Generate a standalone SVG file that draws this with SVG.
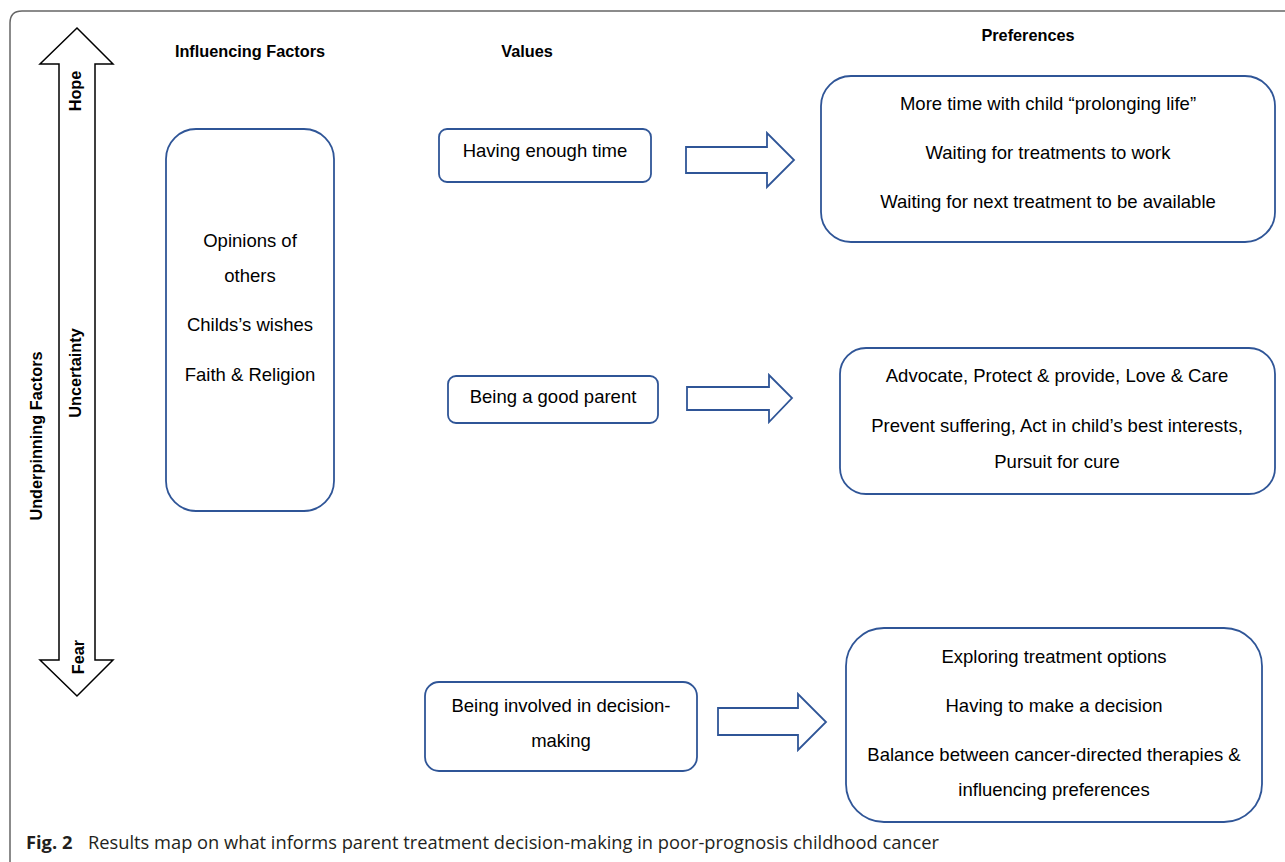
<svg xmlns="http://www.w3.org/2000/svg" width="1285" height="862" viewBox="0 0 1285 862">
<style>
.box{fill:#fff;stroke:#2f5597;stroke-width:1.8}
.blk{fill:#fff;stroke:#2f5597;stroke-width:1.8;stroke-linejoin:miter}
.t{font-family:"Liberation Sans",Arial,sans-serif;font-size:18.5px;fill:#000;text-anchor:middle}
.h{font-family:"Liberation Sans",Arial,sans-serif;font-size:16.3px;font-weight:bold;fill:#000;text-anchor:middle}
.cap{font-family:"Open Sans","Liberation Sans",sans-serif;font-size:18.3px;fill:#231f20}
</style>
<rect width="1285" height="862" fill="#fff"/>
<path d="M10,870 L10,23 Q10,11 22,11 L1300,11" fill="none" stroke="#666" stroke-width="1.5"/>

<g id="axis">
<path d="M77,28 L113,64 L95,64 L95,660 L113,660 L77,696 L40,660 L59,660 L59,64 L40,64 Z" fill="#fff" stroke="#000" stroke-width="1.5"/>
<text class="h" transform="translate(81,91) rotate(-90)">Hope</text>
<text class="h" transform="translate(81,373) rotate(-90)">Uncertainty</text>
<text class="h" transform="translate(84,657) rotate(-90)">Fear</text>
<text class="h" transform="translate(42,436) rotate(-90)">Underpinning Factors</text>
</g>

<g id="headers">
<text class="h" x="250" y="57">Influencing Factors</text>
<text class="h" x="527" y="57">Values</text>
<text class="h" x="1028" y="41">Preferences</text>
</g>

<g id="influencing">
<rect class="box" x="166" y="129" width="168" height="382" rx="30"/>
<text class="t" x="250" y="247">Opinions of</text>
<text class="t" x="250" y="282">others</text>
<text class="t" x="250" y="331">Childs’s wishes</text>
<text class="t" x="250" y="381">Faith &amp; Religion</text>
</g>

<g id="value1">
<rect class="box" x="439" y="129" width="212" height="53" rx="8"/>
<text class="t" x="545" y="157">Having enough time</text>
</g>
<g id="value2">
<rect class="box" x="448" y="376" width="210" height="47" rx="8"/>
<text class="t" x="553" y="403">Being a good parent</text>
</g>
<g id="value3">
<rect class="box" x="425" y="682" width="272" height="89" rx="14"/>
<text class="t" x="561" y="712">Being involved in decision-</text>
<text class="t" x="561" y="747">making</text>
</g>

<g id="connectors">
<path class="blk" d="M686,147 L767,147 L767,133 L794,160 L767,187 L767,173 L686,173 Z"/>
<path class="blk" d="M687,387 L769,387 L769,375 L792,398 L769,422 L769,410 L687,410 Z"/>
<path class="blk" d="M718,708 L798,708 L798,694 L826,722 L798,750 L798,735 L718,735 Z"/>
</g>

<g id="pref1">
<rect class="box" x="821" y="76" width="454" height="166" rx="30"/>
<text class="t" x="1048" y="110">More time with child “prolonging life”</text>
<text class="t" x="1048" y="159">Waiting for treatments to work</text>
<text class="t" x="1048" y="208">Waiting for next treatment to be available</text>
</g>
<g id="pref2">
<rect class="box" x="840" y="348" width="435" height="146" rx="26"/>
<text class="t" x="1057" y="382">Advocate, Protect &amp; provide, Love &amp; Care</text>
<text class="t" x="1057" y="432">Prevent suffering, Act in child’s best interests,</text>
<text class="t" x="1057" y="468">Pursuit for cure</text>
</g>
<g id="pref3">
<rect class="box" x="846" y="628" width="416" height="194" rx="38"/>
<text class="t" x="1054" y="663">Exploring treatment options</text>
<text class="t" x="1054" y="712">Having to make a decision</text>
<text class="t" x="1054" y="761">Balance between cancer-directed therapies &amp;</text>
<text class="t" x="1054" y="796">influencing preferences</text>
</g>

<g id="caption">
<text class="cap" x="26" y="849"><tspan font-weight="bold">Fig. 2</tspan><tspan x="88">Results map on what informs parent treatment decision-making in poor-prognosis childhood cancer</tspan></text>
</g>
</svg>
